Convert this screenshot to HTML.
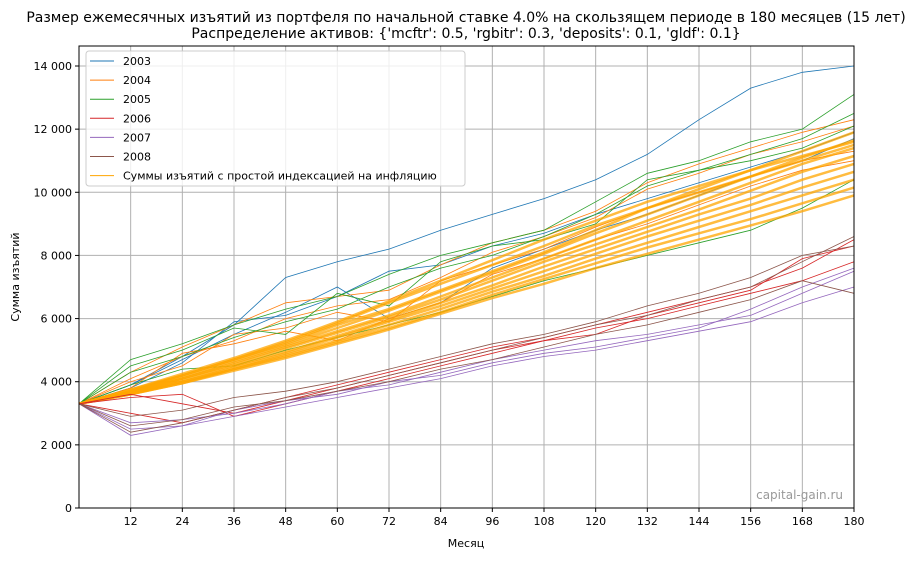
<!DOCTYPE html>
<html><head><meta charset="utf-8">
<style>
body{margin:0;background:#fff;width:920px;height:558px;overflow:hidden;font-family:"Liberation Sans","DejaVu Sans",sans-serif;}
svg text{font-family:"DejaVu Sans","Liberation Sans",sans-serif;}
</style></head>
<body>
<svg id="chart" width="920" height="558" xmlns="http://www.w3.org/2000/svg">
<text x="466" y="22" font-size="14" text-anchor="middle">Размер ежемесячных изъятий из портфеля по начальной ставке 4.0% на скользящем периоде в 180 месяцев (15 лет)</text>
<text x="466" y="38" font-size="14" text-anchor="middle">Распределение активов: {'mcftr': 0.5, 'rgbitr': 0.3, 'deposits': 0.1, 'gldf': 0.1}</text>
<g id="grid"></g>
<g id="series"></g>
<rect x="79" y="46" width="775" height="462" fill="none" stroke="#000" stroke-width="1"/>
<g id="ticks"></g>
<text x="466" y="547" font-size="11" text-anchor="middle">Месяц</text>
<text transform="translate(19,277) rotate(-90)" font-size="11" text-anchor="middle">Сумма изъятий</text>
<text x="843" y="499" font-size="12" fill="#999" text-anchor="end">capital-gain.ru</text>
<g id="legend"></g>
</svg>
<script>
const months = [0,12,24,36,48,60,72,84,96,108,120,132,144,156,168,180];
const xTicks = [12,24,36,48,60,72,84,96,108,120,132,144,156,168,180];
const yTicks = [0,2000,4000,6000,8000,10000,12000,14000];
const yTickLabels = ["0","2 000","4 000","6 000","8 000","10 000","12 000","14 000"];
const inflation1 = [3300,3700,4200,4700,5200,5800,6300,6900,7500,8100,8800,9500,10100,10700,11300,11900];
const inflation2 = [3300,3700,4100,4600,5100,5600,6100,6700,7300,7900,8500,9100,9700,10300,10900,11400];
const inflation3 = [3300,3650,4050,4500,4950,5450,5950,6500,7050,7650,8200,8750,9300,9800,10400,10900];
const inflation4 = [3300,3650,4000,4400,4850,5300,5800,6300,6850,7350,7900,8400,8900,9400,9900,10400];
const inflation5 = [3300,3600,3950,4350,4750,5200,5650,6150,6650,7100,7600,8050,8500,8950,9400,9900];
const inflation6 = [3300,3750,4200,4700,5250,5850,6500,7100,7700,8300,8950,9500,10000,10500,11000,11500];
const inflation7 = [3300,3700,4150,4650,5150,5700,6250,6850,7450,8050,8700,9300,9900,10500,11100,11650];
const inflation8 = [3300,3650,4100,4550,5050,5550,6050,6600,7200,7800,8350,8900,9450,10050,10650,11150];
const inflation9 = [3300,3600,4000,4450,4900,5400,5900,6400,6950,7500,8050,8600,9100,9600,10150,10650];
const inflation10 = [3300,3600,3950,4400,4800,5250,5700,6200,6750,7250,7750,8250,8700,9150,9650,10150];
const inflation11 = [3300,3750,4250,4750,5300,5900,6550,7200,7850,8500,9100,9700,10200,10700,11150,11600];
const y2003a = [3300,3900,4800,5800,7300,7800,8200,8800,9300,9800,10400,11200,12300,13300,13800,14000];
const y2003b = [3300,3900,4700,5500,6200,7000,6000,6500,7600,8200,8800,9300,9900,10500,11000,11700];
const y2003c = [3300,3800,4600,5900,6100,6700,7500,7700,8300,8700,9300,9800,10300,10800,11300,11900];
const y2004a = [3300,4300,5100,5800,6500,6700,6900,7700,8400,8800,9400,10300,10900,11400,11900,12300];
const y2004b = [3300,4100,4800,5300,6000,6400,6600,7300,8100,8600,9200,10100,10600,11200,11600,12100];
const y2004c = [3300,4000,4500,5500,5700,6200,5900,7200,7700,8200,8900,9500,10000,10500,11000,11300];
const y2004d = [3300,3800,4900,5200,5600,5300,6000,6500,7400,7900,8500,9000,9600,10200,10700,11000];
const y2005a = [3300,4700,5200,5800,6300,6700,7400,8000,8400,8800,9700,10600,11000,11600,12000,13100];
const y2005b = [3300,4300,4800,5400,5900,6300,7000,7600,8000,8600,9300,10200,10700,11200,11700,12500];
const y2005c = [3300,3900,4400,4500,5000,5400,5800,6200,6700,7200,7600,8000,8400,8800,9500,10400];
const y2005d = [3300,4500,5000,5700,5500,6800,6400,7800,8300,8500,9000,10400,10700,11000,11400,12100];
const y2006a = [3300,3000,2700,3100,3500,3900,4300,4700,5100,5400,5800,6200,6600,7000,7600,8500];
const y2006b = [3300,3600,3300,3000,3400,3800,4200,4600,5000,5300,5700,6000,6400,6800,7200,7800];
const y2006c = [3300,3500,3600,2900,3300,3700,4100,4500,4900,5300,5500,6100,6500,6900,7900,8300];
const y2007a = [3300,2500,2600,2900,3200,3500,3800,4100,4500,4800,5000,5300,5600,5900,6500,7000];
const y2007b = [3300,2700,2800,3000,3300,3700,3900,4300,4700,5000,5300,5500,5800,6100,6800,7500];
const y2007c = [3300,2300,2600,3100,3400,3600,4000,4200,4600,4900,5100,5400,5700,6300,7000,7600];
const y2008a = [3300,2400,2700,3100,3500,3800,4200,4600,5000,5400,5800,6100,6600,7000,7800,8600];
const y2008b = [3300,2600,2800,3200,3400,3700,4000,4400,4700,5100,5500,5800,6200,6600,7200,6800];
const y2008c = [3300,2900,3100,3500,3700,4000,4400,4800,5200,5500,5900,6400,6800,7300,8000,8300];

const NS="http://www.w3.org/2000/svg";
const X0=79,X1=854,Y0=508,Y1=46;
function xs(m){return X0+(X1-X0)*m/180;}
function ys(v){return Y0-(Y0-66)*v/14000;}
function mk(tag,attrs,parent){const e=document.createElementNS(NS,tag);for(const k in attrs)e.setAttribute(k,attrs[k]);parent.appendChild(e);return e;}
const grid=document.getElementById('grid'),ticks=document.getElementById('ticks'),ser=document.getElementById('series'),leg=document.getElementById('legend');
xTicks.forEach(m=>{
  const l=mk('line',{x1:xs(m),x2:xs(m),y1:Y1,y2:Y0,stroke:'#b0b0b0','stroke-width':1},grid);
  
  
  const t=mk('line',{x1:xs(m),x2:xs(m),y1:Y0,y2:Y0+4,stroke:'#000'},ticks);
  
  
  const tx=mk('text',{x:xs(m),y:Y0+17,'font-size':11,'text-anchor':'middle'},ticks);tx.textContent=m;
  
  
});
yTicks.forEach((v,i)=>{
  const l=mk('line',{x1:X0,x2:X1,y1:ys(v),y2:ys(v),stroke:'#b0b0b0','stroke-width':1},grid);
  
  
  const t=mk('line',{x1:X0-4,x2:X0,y1:ys(v),y2:ys(v),stroke:'#000'},ticks);
  
  
  const tx=mk('text',{x:X0-7,y:ys(v)+4,'font-size':11,'text-anchor':'end'},ticks);tx.textContent=yTickLabels[i];
  
  
});
function draw(vals,color,w,op,name){
  const d=vals.map((v,i)=>(i?'L':'M')+xs(months[i]).toFixed(1)+','+ys(v).toFixed(1)).join('');
  const p=mk('path',{d:d,fill:'none',stroke:color,'stroke-width':w,opacity:op},ser);
  
  
}
draw(y2003a,'#1f77b4',0.8,1,'line-2003');draw(y2003b,'#1f77b4',0.8,1,'line-2003');draw(y2003c,'#1f77b4',0.8,1,'line-2003');
draw(y2004a,'#ff7f0e',0.8,1,'line-2004');draw(y2004b,'#ff7f0e',0.8,1,'line-2004');draw(y2004c,'#ff7f0e',0.8,1,'line-2004');draw(y2004d,'#ff7f0e',0.8,1,'line-2004');
draw(y2005a,'#2ca02c',0.8,1,'line-2005');draw(y2005b,'#2ca02c',0.8,1,'line-2005');draw(y2005c,'#2ca02c',0.8,1,'line-2005');draw(y2005d,'#2ca02c',0.8,1,'line-2005');
[inflation1,inflation2,inflation3,inflation4,inflation5,inflation6,inflation7,inflation8,inflation9,inflation10,inflation11].forEach(s=>draw(s,'#ffa500',2.5,0.75,'inflation-line'));
draw(y2006a,'#d62728',0.8,1,'line-2006');draw(y2006b,'#d62728',0.8,1,'line-2006');draw(y2006c,'#d62728',0.8,1,'line-2006');
draw(y2007a,'#9467bd',0.8,1,'line-2007');draw(y2007b,'#9467bd',0.8,1,'line-2007');draw(y2007c,'#9467bd',0.8,1,'line-2007');
draw(y2008a,'#8c564b',0.8,1,'line-2008');draw(y2008b,'#8c564b',0.8,1,'line-2008');draw(y2008c,'#8c564b',0.8,1,'line-2008');

const lb=mk('rect',{x:86,y:51,width:379,height:135,rx:3,fill:'#fff','fill-opacity':0.8,stroke:'#ccc'},leg);


const legLabels=['2003','2004','2005','2006','2007','2008','Суммы изъятий с простой индексацией на инфляцию'];
const legColors=['#1f77b4','#ff7f0e','#2ca02c','#d62728','#9467bd','#8c564b','#ffa500'];
legLabels.forEach((t,i)=>{
  const y=61+i*19.1;
  const l=mk('line',{x1:90,x2:114,y1:y,y2:y,stroke:legColors[i],'stroke-width':1},leg);
  
  
  const tx=mk('text',{x:123,y:y+4,'font-size':11},leg);tx.textContent=t;
  
  
});
</script>
</body></html>
